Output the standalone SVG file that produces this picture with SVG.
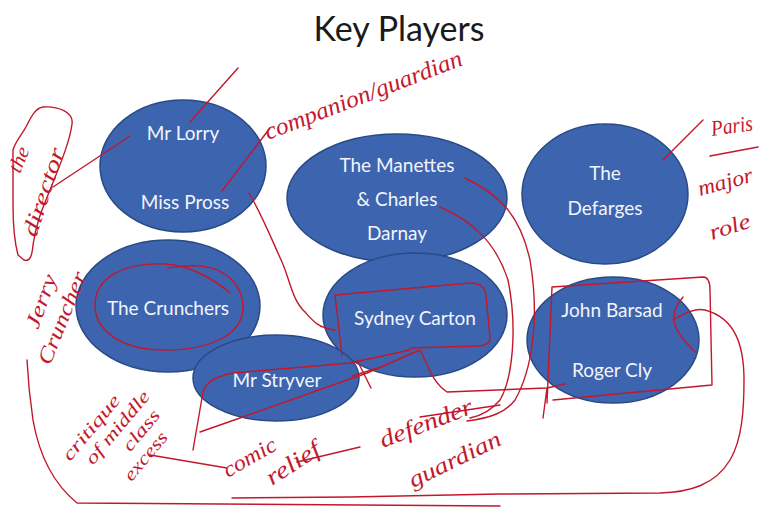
<svg xmlns="http://www.w3.org/2000/svg" width="762" height="508" viewBox="0 0 762 508">
<style>
.node ellipse{fill:#3D64AE;stroke:#2A4A86;stroke-width:1.5}
.node text{font-family:Lato,"Open Sans",sans-serif;font-size:19px;fill:#F2F5FC;text-anchor:middle}
.title{font-family:Lato,"Open Sans",sans-serif;font-size:34px;fill:#1a1a1a;text-anchor:middle}
.ink{fill:none;stroke:#C4172C;stroke-width:1.4;stroke-linecap:round;stroke-linejoin:round}
.hand{font-family:"Liberation Serif","DejaVu Serif",serif;font-style:italic;fill:#C4172C}
</style>
<rect width="762" height="508" fill="#ffffff"/>
<text class="title" x="399" y="41">Key Players</text>

<g id="lorry-pross" class="node"><ellipse cx="183" cy="166" rx="83" ry="66"/><text x="183" y="140">Mr Lorry</text><text x="185" y="209">Miss Pross</text></g>
<g id="crunchers" class="node"><ellipse cx="168" cy="306" rx="92" ry="66"/><text x="168" y="315">The Crunchers</text></g>
<g id="manettes" class="node"><ellipse cx="397" cy="198" rx="110" ry="64"/><text x="397" y="172">The Manettes</text><text x="397" y="206">&amp; Charles</text><text x="397" y="240">Darnay</text></g>
<g id="defarges" class="node"><ellipse cx="605" cy="194" rx="83" ry="70"/><text x="605" y="180">The</text><text x="605" y="215">Defarges</text></g>
<g id="carton" class="node"><ellipse cx="415" cy="315" rx="92" ry="62"/><text x="415" y="325">Sydney Carton</text></g>
<g id="barsad-cly" class="node"><ellipse cx="613" cy="340" rx="86" ry="63"/><text x="612" y="317">John Barsad</text><text x="612" y="377">Roger Cly</text></g>
<g id="stryver" class="node"><ellipse cx="276" cy="378" rx="83" ry="43"/><text x="277" y="387">Mr Stryver</text></g>

<g id="connectors" class="ink">
<path d="M43,107 C58,106 74,112 72,124 C70,140 62,160 52,185 C44,205 36,222 33,245 C32,256 30,262 24,260 L18,255 C14,240 13,222 13,205 L13,150 C16,140 22,135 27,125 C32,115 36,108 43,107 Z"/>
<path d="M53,187 L130,136"/>
<path d="M190,122 L238,68"/>
<path d="M222,191 L270,128"/>
<path d="M249,193 C262,215 272,240 282,262 C290,280 292,300 305,312 C312,320 318,328 335,330"/>
<path d="M230,293 C215,280 190,265 165,264 C120,262 95,280 95,305 C95,330 120,350 165,350 C210,350 243,335 243,307 C243,285 225,268 200,266 C185,265 175,267 168,268"/>
<path d="M335,295 L470,283 C480,283 485,288 486,295 L490,338 C490,343 485,346 478,346 L410,348 M335,295 L342,356"/>
<path d="M193,450 L203,392 C206,383 213,377 233,373 L350,363 L410,350"/>
<path d="M200,432 L240,418 L367,373 L420,350 C428,365 432,382 447,392 L547,388 L565,384"/>
<path d="M357,360 L371,388 M352,376 L378,368"/>
<path d="M552,287 L703,277 C708,277 710,282 710,290 L712,385 L553,400 M552,287 L547,403 M547,388 L543,418"/>
<path d="M465,178 C500,195 520,215 530,260 C540,320 532,370 515,400 C505,413 490,418 467,421"/>
<path d="M440,207 C470,220 495,240 508,280 C518,330 512,380 500,400 C490,412 480,416 470,418"/>
<path d="M683,297 C676,305 672,315 675,325 C678,335 688,345 695,352 M673,320 C685,313 695,308 705,310 C735,318 744,345 744,380 C744,410 742,440 730,460 C715,485 690,492 660,493 L500,494 L350,497 L232,498"/>
<path d="M27,360 C28,380 30,400 33,420 C40,460 55,485 77,503 L500,506"/>
<path d="M663,160 L703,120 M710,156 L758,147"/>
<path d="M150,455 L227,468"/>
<path d="M297,462 L360,447"/>
<path d="M420,417 L500,405"/>
</g>

<g id="annotations">
<text class="hand" font-size="24" x="268" y="140" textLength="210" lengthAdjust="spacingAndGlyphs" transform="rotate(-21 268 140)">companion/guardian</text>
<text class="hand" font-size="20" x="20" y="174" textLength="26" lengthAdjust="spacingAndGlyphs" transform="rotate(-68 20 174)">the</text>
<text class="hand" font-size="22" x="36" y="238" textLength="92" lengthAdjust="spacingAndGlyphs" transform="rotate(-72 36 238)">director</text>
<text class="hand" font-size="21" x="38" y="330" textLength="56" lengthAdjust="spacingAndGlyphs" transform="rotate(-70 38 330)">Jerry</text>
<text class="hand" font-size="21" x="50" y="366" textLength="98" lengthAdjust="spacingAndGlyphs" transform="rotate(-68 50 366)">Cruncher</text>
<text class="hand" font-size="22" x="712" y="136" textLength="42" lengthAdjust="spacingAndGlyphs" transform="rotate(-8 712 136)">Paris</text>
<text class="hand" font-size="22" x="700" y="196" textLength="56" lengthAdjust="spacingAndGlyphs" transform="rotate(-15 700 196)">major</text>
<text class="hand" font-size="22" x="712" y="240" textLength="42" lengthAdjust="spacingAndGlyphs" transform="rotate(-18 712 240)">role</text>
<g transform="translate(70,462) rotate(-50)">
<text class="hand" font-size="18" x="0" y="0" textLength="80" lengthAdjust="spacingAndGlyphs">critique</text>
<text class="hand" font-size="18" x="12" y="20" textLength="90" lengthAdjust="spacingAndGlyphs">of middle</text>
<text class="hand" font-size="18" x="46" y="40" textLength="48" lengthAdjust="spacingAndGlyphs">class</text>
<text class="hand" font-size="18" x="24" y="60" textLength="58" lengthAdjust="spacingAndGlyphs">excess</text>
</g>
<text class="hand" font-size="22" x="228" y="478" textLength="58" lengthAdjust="spacingAndGlyphs" transform="rotate(-30 228 478)">comic</text>
<text class="hand" font-size="24" x="272" y="486" textLength="60" lengthAdjust="spacingAndGlyphs" transform="rotate(-33 272 486)">relief</text>
<text class="hand" font-size="24" x="383" y="448" textLength="98" lengthAdjust="spacingAndGlyphs" transform="rotate(-21 383 448)">defender</text>
<text class="hand" font-size="23" x="413" y="488" textLength="100" lengthAdjust="spacingAndGlyphs" transform="rotate(-26 413 488)">guardian</text>
</g>
</svg>
